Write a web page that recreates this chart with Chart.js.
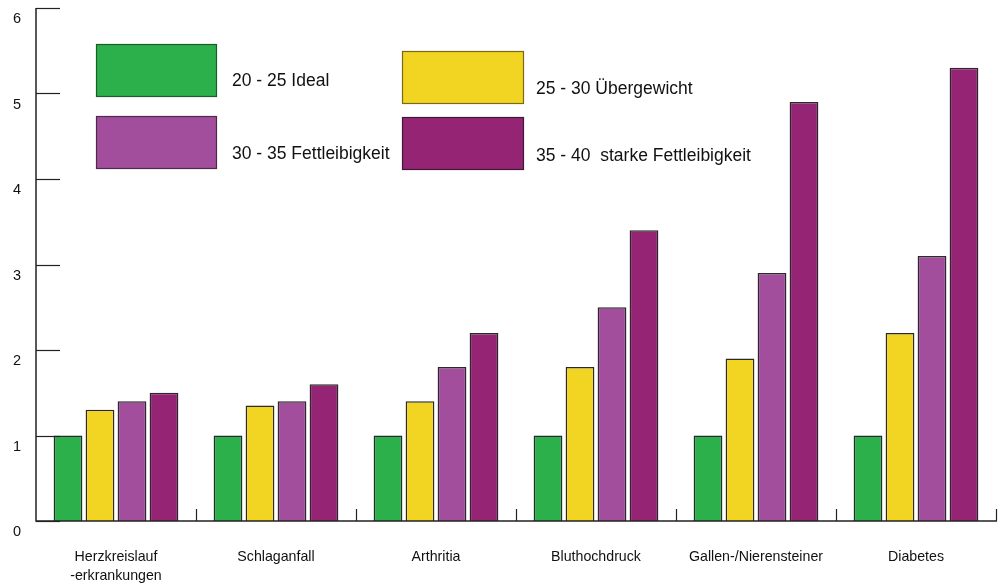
<!DOCTYPE html>
<html lang="de">
<head>
<meta charset="utf-8">
<title>Krankheitsrisiko nach BMI</title>
<script src="https://cdn.jsdelivr.net/npm/chart.js@4/dist/chart.umd.min.js"></script>
<style>
  html, body { margin: 0; padding: 0; background: #ffffff; }
  #wrap { position: relative; width: 1004px; height: 585px; }
  canvas { display: block; }
</style>
</head>
<body>
<div id="wrap"><canvas id="chart" width="1004" height="585"></canvas></div>
<script>
// Erkrankungen (Kategorien)
const categories = [
  ['Herzkreislauf', '-erkrankungen'],
  'Schlaganfall',
  'Arthritia',
  'Bluthochdruck',
  'Gallen-/Nierensteiner',
  'Diabetes'
];

// BMI-Gruppen
const seriesLabels = [
  '20 - 25 Ideal',
  '25 - 30 Übergewicht',
  '30 - 35 Fettleibigkeit',
  '35 - 40  starke Fettleibigkeit'
];

// Relatives Risiko je Gruppe
const idealValues        = [1.0, 1.0, 1.0, 1.0, 1.0, 1.0];
const uebergewichtValues = [1.3, 1.35, 1.4, 1.8, 1.9, 2.2];
const fettleibigValues   = [1.4, 1.4, 1.8, 2.5, 2.9, 3.1];
const starkFettValues    = [1.5, 1.6, 2.2, 3.4, 4.9, 5.3];

const yTicks = [0, 1, 2, 3, 4, 5, 6];

const fillColors   = ['#2bb04b', '#f2d523', '#a24e9c', '#962475'];
const legendBorder = ['#1f5a2b', '#7a6a18', '#4d2a4a', '#3c1a33'];

const FONT = '"Liberation Sans", Arial, Helvetica, sans-serif';

// Achsenlinien, innenliegende Striche und Kategorie-Trenner
const axisPlugin = {
  id: 'axisMarks',
  afterDatasetsDraw(chart) {
    const { ctx, chartArea, scales } = chart;
    const y = scales.y;
    ctx.save();
    ctx.strokeStyle = '#222222';
    ctx.lineWidth = 1.5;
    // y-Achse und x-Achse
    ctx.beginPath();
    ctx.moveTo(chartArea.left, y.getPixelForValue(6));
    ctx.lineTo(chartArea.left, y.getPixelForValue(0));
    ctx.lineTo(chartArea.right + 1, y.getPixelForValue(0));
    ctx.stroke();
    // waagerechte Striche nach innen
    ctx.lineWidth = 1.2;
    yTicks.forEach(v => {
      const py = Math.round(y.getPixelForValue(v)) + 0.5;
      ctx.beginPath();
      ctx.moveTo(chartArea.left, py);
      ctx.lineTo(chartArea.left + 24, py);
      ctx.stroke();
    });
    // senkrechte Trenner zwischen Kategorien
    const n = categories.length;
    const w = (chartArea.right - chartArea.left) / n;
    const base = y.getPixelForValue(0);
    for (let i = 1; i <= n; i++) {
      const px = Math.round(chartArea.left + i * w) + 0.5;
      ctx.beginPath();
      ctx.moveTo(px, base);
      ctx.lineTo(px, base - 12);
      ctx.stroke();
    }
    ctx.restore();
  }
};

// Legende mit großen Farbflächen
const legendPlugin = {
  id: 'boxLegend',
  afterDraw(chart, args, opts) {
    const { ctx } = chart;
    ctx.save();
    ctx.font = '17.5px ' + FONT;
    ctx.textBaseline = 'middle';
    opts.items.forEach((it, i) => {
      const ds = chart.data.datasets[i];
      ctx.fillStyle = ds.backgroundColor;
      ctx.fillRect(it.bx, it.by, it.bw, it.bh);
      ctx.strokeStyle = legendBorder[i];
      ctx.lineWidth = 1.2;
      ctx.strokeRect(it.bx + 0.5, it.by + 0.5, it.bw, it.bh);
      ctx.fillStyle = '#111111';
      ctx.fillText(ds.label, it.tx, it.ty);
    });
    ctx.restore();
  }
};

const seriesData = [idealValues, uebergewichtValues, fettleibigValues, starkFettValues];

new Chart(document.getElementById('chart'), {
  type: 'bar',
  data: {
    labels: categories,
    datasets: seriesData.map((vals, i) => ({
      label: seriesLabels[i],
      data: vals,
      backgroundColor: fillColors[i],
      borderColor: '#2a2a2a',
      borderWidth: 1.5,
      categoryPercentage: 0.8,
      barPercentage: 0.9
    }))
  },
  options: {
    responsive: false,
    animation: false,
    devicePixelRatio: 1,
    layout: { padding: { top: 8, right: 8, left: 0, bottom: 0 } },
    plugins: {
      legend: { display: false },
      tooltip: { enabled: false },
      boxLegend: {
        items: [
          { bx: 96,  by: 44,  bw: 120, bh: 52, tx: 232, ty: 81 },
          { bx: 402, by: 51,  bw: 121, bh: 52, tx: 536, ty: 89 },
          { bx: 96,  by: 116, bw: 120, bh: 52, tx: 232, ty: 154 },
          { bx: 402, by: 117, bw: 121, bh: 52, tx: 536, ty: 156 }
        ]
      }
    },
    scales: {
      x: {
        grid: { display: false, drawTicks: false },
        border: { display: false },
        ticks: {
          color: '#111111',
          font: { family: FONT, size: 14.2, lineHeight: 1.3 },
          padding: 27,
          maxRotation: 0,
          autoSkip: false
        },
        afterFit(scale) {
          scale.height = 64;
          scale.paddingLeft = 0;
          scale.paddingRight = 0;
        }
      },
      y: {
        min: 0,
        max: 6,
        grid: { display: false, drawTicks: false },
        border: { display: false },
        ticks: {
          stepSize: 1,
          color: '#111111',
          font: { family: FONT, size: 14.5 },
          padding: 15,
          labelOffset: 11
        },
        afterFit(scale) {
          scale.width = 36;
          scale.paddingTop = 0;
          scale.paddingBottom = 0;
        }
      }
    }
  },
  plugins: [axisPlugin, legendPlugin]
});
</script>
</body>
</html>
